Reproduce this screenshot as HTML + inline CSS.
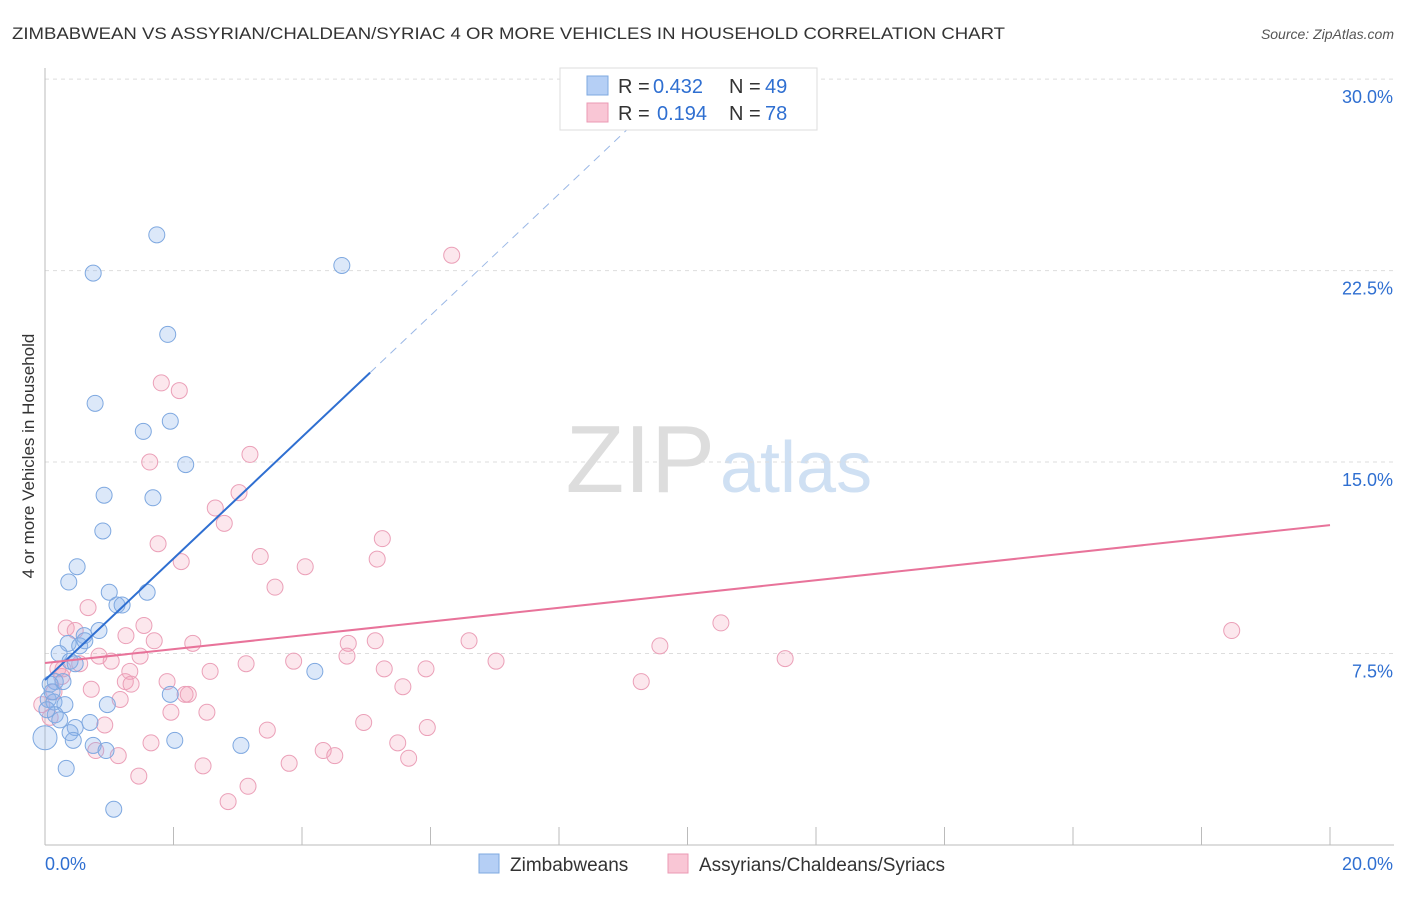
<!DOCTYPE html>
<html><head><meta charset="utf-8"><style>
body{margin:0;background:#fff;font-family:"Liberation Sans",sans-serif}
svg text{font-family:"Liberation Sans",sans-serif}
</style></head><body>
<svg id="c" width="1406" height="892" xmlns="http://www.w3.org/2000/svg">
<text x="12" y="39" font-size="17" fill="#333" textLength="993" lengthAdjust="spacingAndGlyphs">ZIMBABWEAN VS ASSYRIAN/CHALDEAN/SYRIAC 4 OR MORE VEHICLES IN HOUSEHOLD CORRELATION CHART</text>
<text x="1394" y="39" font-size="14" fill="#555" font-style="italic" text-anchor="end">Source: ZipAtlas.com</text>
<text x="34" y="456" font-size="17" fill="#333" text-anchor="middle" transform="rotate(-90 34 456)">4 or more Vehicles in Household</text>
<text x="715" y="492" font-size="96" fill="#ddd" text-anchor="end" font-family="Liberation Serif">ZIP</text>
<text x="720" y="492" font-size="72" fill="#cfe0f3">atlas</text>
<g id="grid"></g><g id="pts"></g><g id="lines"></g>
<g>
<rect x="560" y="68" width="257" height="62" fill="#fff" stroke="#ddd"/>
<rect x="587" y="76" width="21" height="19" fill="#b5cff5" stroke="#7ea8e0"/>
<rect x="587" y="103" width="21" height="19" fill="#f9c6d5" stroke="#eb9ab4"/>
<text x="618" y="93" font-size="20" fill="#333">R =</text>
<text x="653" y="93" font-size="20" fill="#2f6fd1">0.432</text>
<text x="729" y="93" font-size="20" fill="#333">N =</text>
<text x="765" y="93" font-size="20" fill="#2f6fd1">49</text>
<text x="618" y="120" font-size="20" fill="#333">R =</text>
<text x="657" y="120" font-size="20" fill="#2f6fd1">0.194</text>
<text x="729" y="120" font-size="20" fill="#333">N =</text>
<text x="765" y="120" font-size="20" fill="#2f6fd1">78</text>
</g>
<g>
<rect x="479" y="854" width="20" height="19" fill="#b5cff5" stroke="#7ea8e0"/>
<text x="510" y="871" font-size="19" fill="#333">Zimbabweans</text>
<rect x="668" y="854" width="20" height="19" fill="#f9c6d5" stroke="#eb9ab4"/>
<text x="699" y="871" font-size="19" fill="#333">Assyrians/Chaldeans/Syriacs</text>
</g>
</svg>
<script>
const yTicks=[7.5,15,22.5,30];
const yTickLabels=["7.5%","15.0%","22.5%","30.0%"];
const xTickLabels=["0.0%","20.0%"];
const blueX=[1.74,0.75,4.62,1.91,0.78,1.95,1.53,2.19,0.92,1.68,0.90,0.50,0.37,1.00,1.59,1.12,1.20,0.84,0.61,0.36,0.54,0.22,0.39,0.47,4.20,0.16,0.28,0.08,0.05,0.14,0.31,0.97,1.95,0.16,0.70,0.47,0.39,0.44,2.02,0.75,0.95,3.05,0.33,1.07,0.0,0.11,0.23,0.03,0.62];
const blueY=[23.9,22.4,22.7,20.0,17.3,16.6,16.2,14.9,13.7,13.6,12.3,10.9,10.3,9.9,9.9,9.4,9.4,8.4,8.2,7.9,7.8,7.5,7.2,7.1,6.8,6.4,6.4,6.3,5.7,5.6,5.5,5.5,5.9,5.1,4.8,4.6,4.4,4.1,4.1,3.9,3.7,3.9,3.0,1.4,4.2,6.0,4.9,5.3,8.0];
const pinkX=[11.0,6.33,1.81,2.09,3.19,1.63,3.02,2.65,2.79,1.76,5.25,3.35,2.12,5.17,4.05,3.58,0.67,0.33,0.47,1.54,1.26,1.70,2.30,4.72,4.70,5.14,6.60,9.57,10.52,18.47,11.52,7.02,3.87,1.48,1.03,0.84,0.54,3.13,2.57,1.32,5.28,5.93,0.20,0.26,1.90,1.25,1.34,0.72,5.57,9.28,2.18,2.23,1.17,1.96,2.52,4.96,5.95,0.93,3.46,1.65,4.33,0.79,1.14,5.49,4.51,5.66,2.46,3.80,1.46,3.16,2.85,0.08,0.14,0.28,-0.05];
const pinkY=[28.4,23.1,18.1,17.8,15.3,15.0,13.8,13.2,12.6,11.8,12.0,11.3,11.1,11.2,10.9,10.1,9.3,8.5,8.4,8.6,8.2,8.0,7.9,7.9,7.4,8.0,8.0,7.8,8.7,8.4,7.3,7.2,7.2,7.4,7.2,7.4,7.1,7.1,6.8,6.8,6.9,6.9,6.9,6.6,6.4,6.4,6.3,6.1,6.2,6.4,5.9,5.9,5.7,5.2,5.2,4.8,4.6,4.7,4.5,4.0,3.7,3.7,3.5,4.0,3.5,3.4,3.1,3.2,2.7,2.3,1.7,5.0,6.0,6.9,5.5];
const blueLine=[6.46,2.38];
const pinkLine=[7.13,0.27];
const X=v=>45+v*64.25, Y=v=>845-v*25.53;
const ns="http://www.w3.org/2000/svg";
function mk(p,t,a){const e=document.createElementNS(ns,t);for(const k in a)e.setAttribute(k,a[k]);document.getElementById(p).appendChild(e);return e;}
yTicks.forEach((t,i)=>{
 const l=mk('grid','line',{x1:45,x2:1394,y1:Y(t),y2:Y(t),stroke:'#ddd','stroke-dasharray':'4,4'});
 
 
 const tx=mk('grid','text',{x:1393,y:Y(t)+24,'font-size':18,fill:'#2f6fd1','text-anchor':'end'});
 tx.textContent=yTickLabels[i];
 
 
});
const ax=mk('grid','line',{x1:45,x2:1394,y1:Y(0),y2:Y(0),stroke:'#bbb'});


const ay=mk('grid','line',{x1:45,x2:45,y1:68,y2:Y(0),stroke:'#bbb'});


for(let i=0;i<=10;i++){const t=mk('grid','line',{x1:X(i*2),x2:X(i*2),y1:Y(0),y2:Y(0)-18,stroke:'#bbb'});
 
 }
[[0,'start',45],[20,'end',1393]].forEach((d,i)=>{const t=mk('grid','text',{x:d[2],y:870,'font-size':18,fill:'#2f6fd1','text-anchor':d[1]});t.textContent=xTickLabels[i];
 
 });
pinkX.forEach((x,i)=>{const c=mk('pts','circle',{cx:X(x),cy:Y(pinkY[i]),r:8,fill:'rgba(245,160,185,0.25)',stroke:'#eba0b8','stroke-width':1});
 
 });
blueX.forEach((x,i)=>{const c=mk('pts','circle',{cx:X(x),cy:Y(blueY[i]),r:i==44?12:8,fill:'rgba(140,180,235,0.3)',stroke:'#7ea8e0','stroke-width':1});
 
 });
const bx=5.06,bx2=9.6;
const b1=mk('lines','line',{x1:X(0),y1:Y(blueLine[0]),x2:X(bx),y2:Y(blueLine[0]+blueLine[1]*bx),stroke:'#2f6fd1','stroke-width':2});


const b2=mk('lines','line',{x1:X(bx),y1:Y(blueLine[0]+blueLine[1]*bx),x2:X(bx2),y2:Y(blueLine[0]+blueLine[1]*bx2),stroke:'#9bb8e6','stroke-width':1,'stroke-dasharray':'8,6'});


const p1=mk('lines','line',{x1:X(0),y1:Y(pinkLine[0]),x2:X(20),y2:Y(pinkLine[0]+pinkLine[1]*20),stroke:'#e8739a','stroke-width':2});


</script>
</body></html>
